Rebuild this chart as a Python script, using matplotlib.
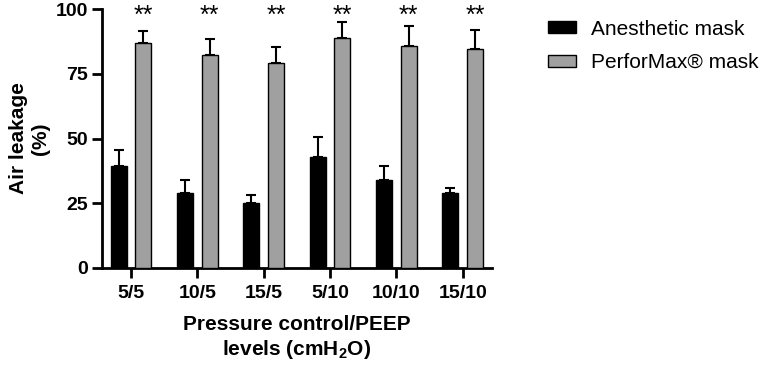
import numpy as np
import matplotlib
matplotlib.use("Agg")
import matplotlib.pyplot as plt

plt.rcParams['font.family'] = ['Liberation Sans', 'DejaVu Sans']
plt.rcParams['mathtext.fontset'] = 'custom'
plt.rcParams['mathtext.rm'] = 'Liberation Sans'
plt.rcParams['mathtext.bf'] = 'Liberation Sans:bold'
plt.rcParams['mathtext.default'] = 'bf'

# data
levels = ['5/5', '10/5', '15/5', '5/10', '10/10', '15/10']
anesthetic = [39.4, 28.8, 25.2, 43.0, 34.0, 29.1]
anesthetic_err = [6.2, 5.2, 3.0, 7.7, 5.5, 1.9]
performax = [86.8, 82.2, 79.0, 88.9, 85.8, 84.6]
performax_err = [4.8, 6.1, 6.4, 6.0, 7.8, 7.3]
signif = ['**', '**', '**', '**', '**', '**']

fig = plt.figure(figsize=(7.65, 3.66), dpi=100)
ax = fig.add_axes([0.133, 0.268, 0.51, 0.707])

x = np.arange(len(levels))
w = 0.24
off = 0.185
zeros = np.zeros(len(levels))

ax.bar(x - off, anesthetic, w, color='black', edgecolor='black', linewidth=1,
       label='Anesthetic mask', zorder=3)
ax.bar(x + off, performax, w, color='#a0a0a0', edgecolor='black', linewidth=1,
       label='PerforMax® mask', zorder=3)
ax.errorbar(x - off, anesthetic, yerr=[zeros, anesthetic_err], fmt='none',
            ecolor='black', elinewidth=1.5, capsize=3.5, capthick=1.5, zorder=2)
ax.errorbar(x + off, performax, yerr=[zeros, performax_err], fmt='none',
            ecolor='black', elinewidth=1.5, capsize=3.5, capthick=1.5, zorder=2)

for xi, s in zip(x, signif):
    ax.text(xi + off, 97.5, s, ha='center', va='center', fontsize=18)

ax.set_xlim(-0.44, 5.44)
ax.set_ylim(0, 100)
ax.set_yticks([0, 25, 50, 75, 100])
ax.set_xticks(x)
ax.set_xticklabels(levels)
for sp in ['top', 'right']:
    ax.spines[sp].set_visible(False)
for sp in ['left', 'bottom']:
    ax.spines[sp].set_linewidth(2)
ax.tick_params(width=2, length=7, labelsize=14)
ax.tick_params(axis='x', pad=5)
ax.tick_params(axis='y', pad=3)
for lab in ax.get_xticklabels() + ax.get_yticklabels():
    lab.set_fontweight('bold')

ax.set_ylabel('Air leakage\n(%)', fontsize=15, fontweight='bold', labelpad=4)
ax.set_xlabel('Pressure control/PEEP\nlevels (cmH$_2$O)', fontsize=15,
              fontweight='bold', labelpad=10)

fig.legend(loc='upper left', bbox_to_anchor=(0.703, 0.975), frameon=False,
           fontsize=15, handlelength=1.35, handleheight=0.5, labelspacing=0.7,
           borderpad=0, handletextpad=0.7)

fig.savefig('out.png', dpi=100)
